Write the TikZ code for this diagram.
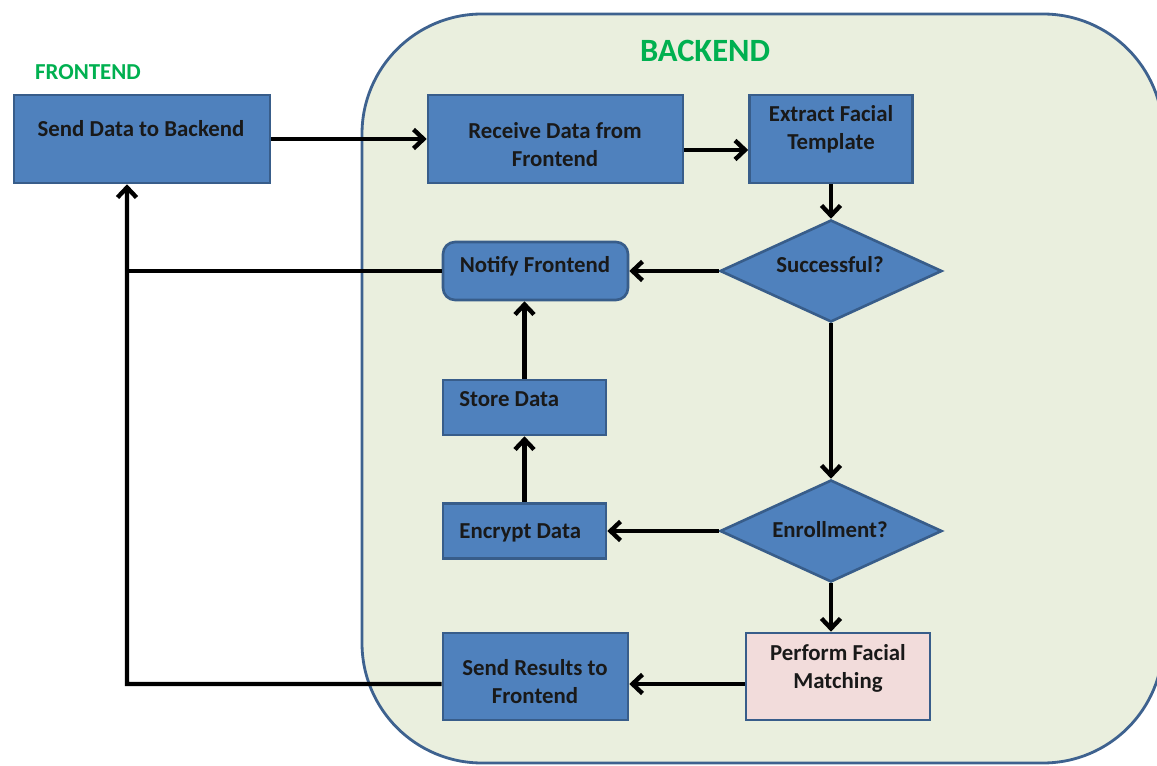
\documentclass[tikz,border=0pt]{standalone}
\usepackage{fontspec}
\setmainfont{Carlito}
\usetikzlibrary{arrows.meta,positioning,calc,shapes.geometric}
\definecolor{boxblue}{RGB}{79,129,189}
\definecolor{boxline}{RGB}{56,93,138}
\definecolor{panelfill}{RGB}{234,239,222}
\definecolor{panelline}{RGB}{62,98,143}
\definecolor{matchpink}{RGB}{242,220,219}
\definecolor{tagreen}{RGB}{0,176,80}

\begin{document}
\begin{tikzpicture}[x=0.02cm,y=-0.02cm,font=\bfseries\fontsize{13}{16}\selectfont]
  \tikzstyle{process}=[rectangle,draw=boxline,fill=boxblue,line width=1.5pt,inner sep=0pt]
  \tikzstyle{decision}=[diamond,draw=boxline,fill=boxblue,line width=1.5pt,inner sep=0pt,minimum width=4.44cm,minimum height=2.04cm]
  \tikzstyle{lab}=[align=center,inner sep=0pt,text=black!90]
  \tikzstyle{flow}=[-{Straight Barb[length=0.2cm,width=0.38cm]},line width=2.5pt]
  \tikzstyle{link}=[line width=2.5pt]
  \useasboundingbox (0,0) rectangle (1157,766);
  % backend area
  \draw[fill=panelfill,draw=panelline,line width=1.6pt,rounded corners=2.4cm] (362,14) rectangle (1163,763);
  \node[text=tagreen,font=\bfseries\fontsize{18.5}{20}\selectfont] (backend) at (705,51) {BACKEND};
  \node[text=tagreen,font=\bfseries\fontsize{13}{15}\selectfont] (frontend) at (88,72) {FRONTEND};
  % boxes
  \node[process,minimum width=5.12cm,minimum height=1.76cm] (send) at (142,139) {};
  \node[lab] (labSend) at (141,129) {Send Data to Backend};
  \node[process,minimum width=5.1cm,minimum height=1.76cm] (receive) at (555.5,139) {};
  \node[lab] (labReceive) at (555,145) {Receive Data from\\Frontend};
  \node[process,minimum width=3.26cm,minimum height=1.76cm] (extract) at (831,139) {};
  \node[lab] (labExtract) at (831,129) {Extract Facial\\Template};
  \node[decision] (success) at (831,271) {};
  \node[lab] (labSuccess) at (830,265) {Successful?};
  \node[process,rounded corners=0.24cm,minimum width=3.7cm,minimum height=1.16cm] (notify) at (535.5,271) {};
  \node[lab] (labNotify) at (535,266) {Notify Frontend};
  \node[process,minimum width=3.26cm,minimum height=1.1cm] (store) at (524.5,407.5) {};
  \node[lab,anchor=west] (labStore) at (459,399) {Store Data};
  \node[process,minimum width=3.26cm,minimum height=1.1cm] (encrypt) at (524.5,531) {};
  \node[lab,anchor=west] (labEncrypt) at (459,533) {Encrypt Data};
  \node[decision] (enroll) at (831,531) {};
  \node[lab] (labEnroll) at (830,530) {Enrollment?};
  \node[process,fill=matchpink,minimum width=3.68cm,minimum height=1.74cm] (match) at (838,676.5) {};
  \node[lab] (labMatch) at (838,668) {Perform Facial\\Matching};
  \node[process,minimum width=3.7cm,minimum height=1.74cm] (results) at (535.5,676.5) {};
  \node[lab] (labResults) at (535,682) {Send Results to\\Frontend};
  \coordinate (bus) at (127,684);
  % connectors
  \draw[flow] (send) -- (receive);
  \draw[flow] ([yshift=-0.22cm]receive.east) -- ([yshift=-0.22cm]extract.west);
  \draw[flow] (extract) -- (success);
  \draw[flow] (success) -- (notify);
  \draw[flow] (success) -- (enroll);
  \draw[flow] (enroll) -- (encrypt);
  \draw[flow] (encrypt) -- (store);
  \draw[flow] (store.north) -- (store.north |- notify.south);
  \draw[flow] (enroll.south) -- (enroll.south |- match.north);
  \draw[flow] ([yshift=-0.15cm]match.west) -- ([yshift=-0.15cm]results.east);
  \draw[flow] ([yshift=-0.15cm]results.west) -- (bus) -- (bus |- send.south);
  \draw[link] (notify.west) -- (notify.west -| bus);
\end{tikzpicture}
\end{document}
